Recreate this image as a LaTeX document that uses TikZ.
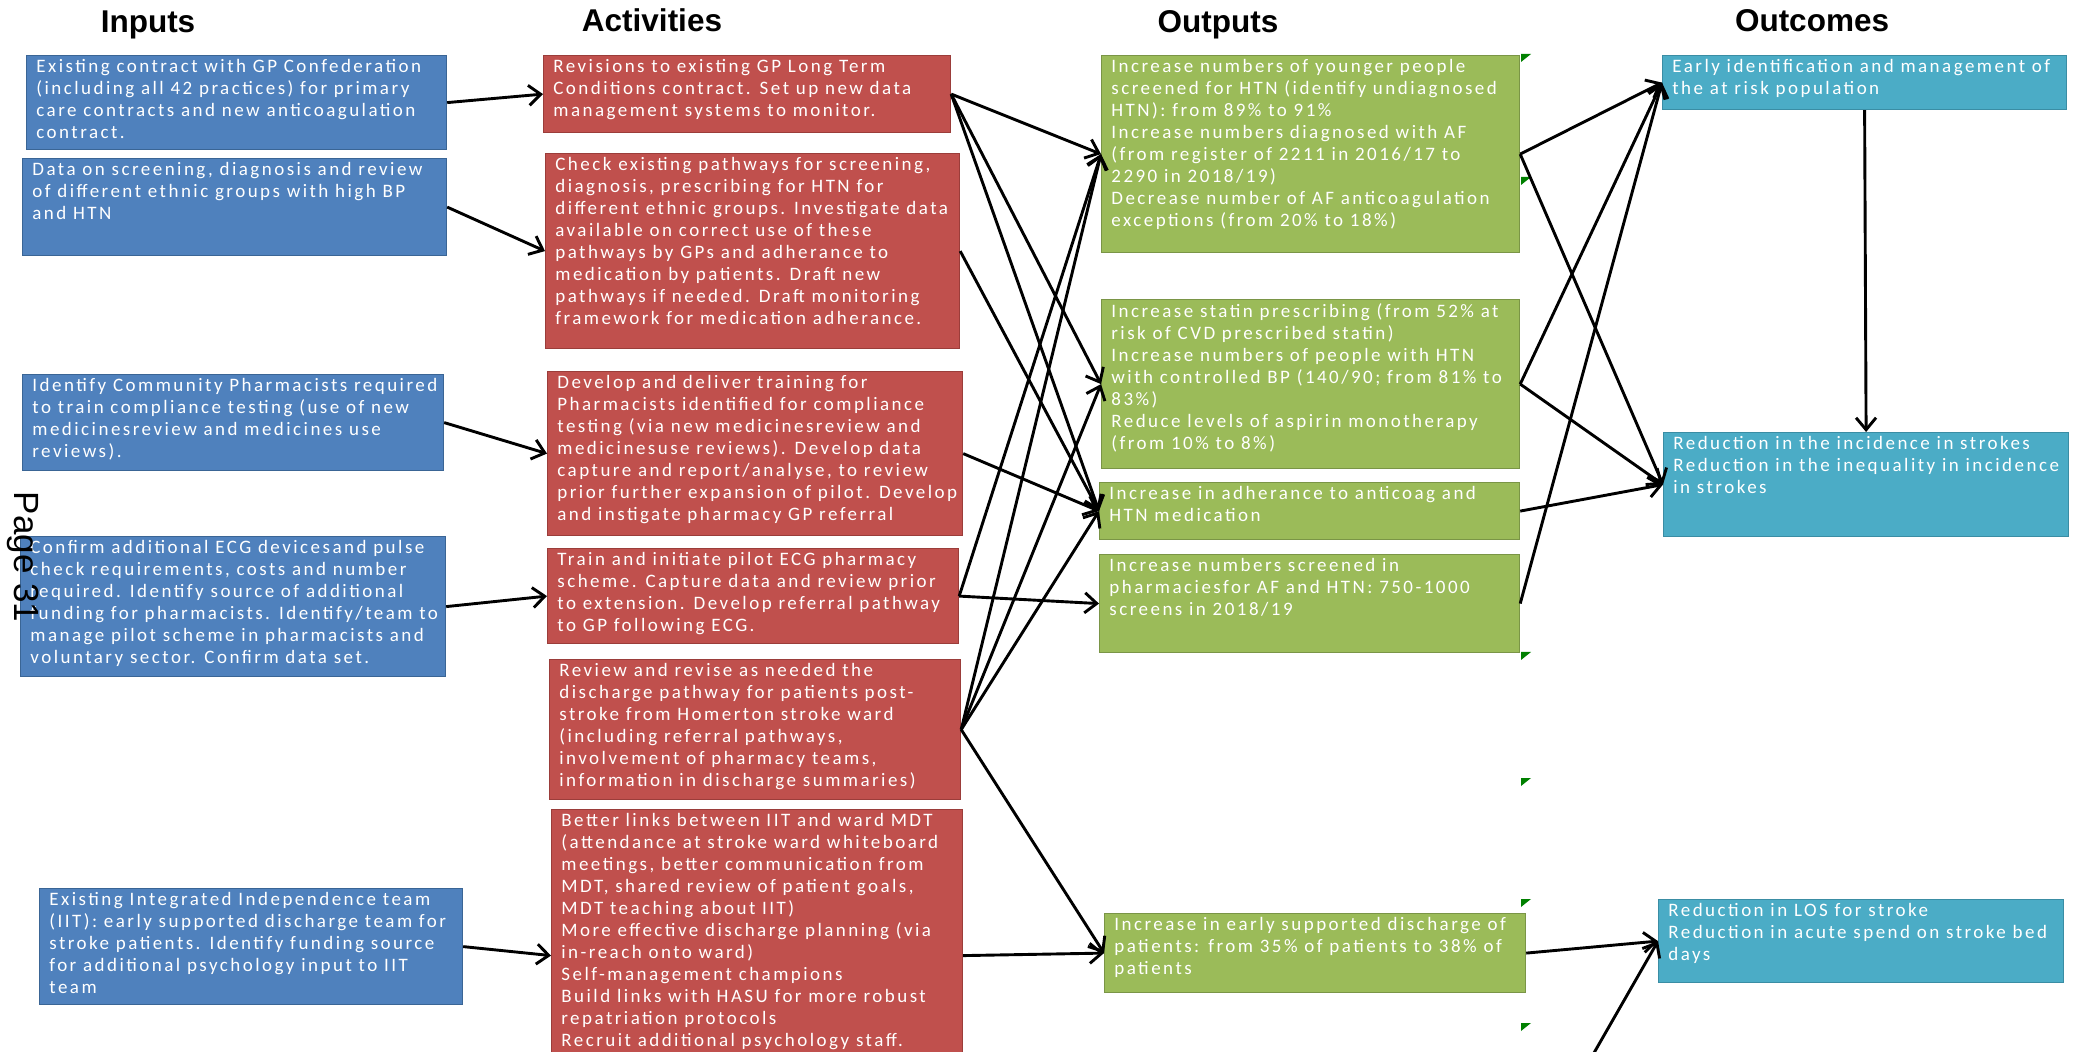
\documentclass[tikz,border=0pt]{standalone}
\usepackage{fontspec}
\setmainfont{Liberation Sans}
\newfontfamily\boxfont[LetterSpace=13]{Carlito}
\usetikzlibrary{arrows.meta}
\definecolor{inblue}{HTML}{4F81BD}
\definecolor{inblueb}{HTML}{3A6595}
\definecolor{actred}{HTML}{C0504D}
\definecolor{actredb}{HTML}{9B3D3A}
\definecolor{outgreen}{HTML}{9BBB59}
\definecolor{outgreenb}{HTML}{7A9546}
\definecolor{octeal}{HTML}{4BACC6}
\definecolor{octealb}{HTML}{3A8DA4}
\definecolor{flaggreen}{HTML}{008000}
\tikzset{
 boxbase/.style={rectangle, anchor=north west, inner sep=0pt, line width=0.6pt},
 inbox/.style={boxbase, fill=inblue, draw=inblueb},
 actbox/.style={boxbase, fill=actred, draw=actredb},
 outbox/.style={boxbase, fill=outgreen, draw=outgreenb},
 ocbox/.style={boxbase, fill=octeal, draw=octealb},
 txt/.style={anchor=north west, inner sep=0pt, align=left, text=white, font=\boxfont\fontsize{9.5}{11}\selectfont},
 coltitle/.style={anchor=base, font=\bfseries\fontsize{15.75}{18}\selectfont},
 conn/.style={line width=1.45pt, -{Straight Barb[length=6pt,width=10pt]}},
 flag/.style={fill=flaggreen}
}
\newcommand\mkbox[7]{%
 \node[#2, minimum width=#5pt, minimum height=#6pt] (#1) at (#3,#4) {};
 \node[txt] (#1t) at ([xshift=5pt,yshift=-2pt]#1.north west) {#7};
}
\begin{document}
\begin{tikzpicture}[x=0.5pt,y=-0.5pt]
\useasboundingbox (0,0) rectangle (2076,1052);
\clip (0,0) rectangle (2076,1052);
\fill[white] (0,0) rectangle (2076,1052);

% column titles
\node[coltitle] (tin) at (148,33) {Inputs};
\node[coltitle] (tact) at (652,32) {Activities};
\node[coltitle] (tout) at (1218,33) {Outputs};
\node[coltitle] (toc) at (1812,32) {Outcomes};

% inputs
\mkbox{in1}{inbox}{26}{55}{210}{47}{Existing contract with GP Confederation\\(including all 42 practices) for primary\\care contracts and new anticoagulation\\contract.}
\mkbox{in2}{inbox}{22}{158}{212}{48.5}{Data on screening, diagnosis and review\\of different ethnic groups with high BP\\and HTN}
\mkbox{in3}{inbox}{22}{374}{210.5}{48}{Identify Community Pharmacists required\\to train compliance testing (use of new\\medicinesreview and medicines use\\reviews).}
\mkbox{in4}{inbox}{20}{536}{212.5}{70}{Confirm additional ECG devicesand pulse\\check requirements, costs and number\\required. Identify source of additional\\funding for pharmacists. Identify/team to\\manage pilot scheme in pharmacists and\\voluntary sector. Confirm data set.}
\mkbox{in5}{inbox}{39}{888}{211.5}{58}{Existing Integrated Independence team\\(IIT): early supported discharge team for\\stroke patients. Identify funding source\\for additional psychology input to IIT\\team}

% activities
\mkbox{act1}{actbox}{543}{55}{203.5}{38.5}{Revisions to existing GP Long Term\\Conditions contract. Set up new data\\management systems to monitor.}
\mkbox{act2}{actbox}{545}{153}{207}{97.5}{Check existing pathways for screening,\\diagnosis, prescribing for HTN for\\different ethnic groups. Investigate data\\available on correct use of these\\pathways by GPs and adherance to\\medication by patients. Draft new\\pathways if needed. Draft monitoring\\framework for medication adherance.}
\mkbox{act3}{actbox}{547}{371}{207.5}{82}{Develop and deliver training for\\Pharmacists identified for compliance\\testing (via new medicinesreview and\\medicinesuse reviews). Develop data\\capture and report/analyse, to review\\prior further expansion of pilot. Develop\\and instigate pharmacy GP referral}
\mkbox{act4}{actbox}{547}{548}{205.5}{47.5}{Train and initiate pilot ECG pharmacy\\scheme. Capture data and review prior\\to extension. Develop referral pathway\\to GP following ECG.}
\mkbox{act5}{actbox}{549}{659}{205.5}{70}{Review and revise as needed the\\discharge pathway for patients post-\\stroke from Homerton stroke ward\\(including referral pathways,\\involvement of pharmacy teams,\\information in discharge summaries)}
\mkbox{act6}{actbox}{551}{809}{205.5}{146}{Better links between IIT and ward MDT\\(attendance at stroke ward whiteboard\\meetings, better communication from\\MDT, shared review of patient goals,\\MDT teaching about IIT)\\More effective discharge planning (via\\in-reach onto ward)\\Self-management champions\\Build links with HASU for more robust\\repatriation protocols\\Recruit additional psychology staff.}

% outputs
\mkbox{out1}{outbox}{1101}{55}{209}{98.5}{Increase numbers of younger people\\screened for HTN (identify undiagnosed\\HTN): from 89\% to 91\%\\Increase numbers diagnosed with AF\\(from register of 2211 in 2016/17 to\\2290 in 2018/19)\\Decrease number of AF anticoagulation\\exceptions (from 20\% to 18\%)}
\mkbox{out2}{outbox}{1101}{299}{209}{84.5}{Increase statin prescribing (from 52\% at\\risk of CVD prescribed statin)\\Increase numbers of people with HTN\\with controlled BP (140/90; from 81\% to\\83\%)\\Reduce levels of aspirin monotherapy\\(from 10\% to 8\%)}
\mkbox{out3}{outbox}{1099}{482}{210}{28.5}{Increase in adherance to anticoag and\\HTN medication}
\mkbox{out4}{outbox}{1099}{554}{210}{49}{Increase numbers screened in\\pharmaciesfor AF and HTN: 750-1000\\screens in 2018/19}
\mkbox{out5}{outbox}{1104}{913}{210.5}{39.5}{Increase in early supported discharge of\\patients: from 35\% of patients to 38\% of\\patients}

% outcomes
\mkbox{oc1}{ocbox}{1662}{55}{202}{27}{Early identification and management of\\the at risk population}
\mkbox{oc2}{ocbox}{1663}{432}{202.5}{52}{Reduction in the incidence in strokes\\Reduction in the inequality in incidence\\in strokes}
\mkbox{oc3}{ocbox}{1658}{899}{202.5}{41.5}{Reduction in LOS for stroke\\Reduction in acute spend on stroke bed\\days}

\coordinate (offpage) at (1567,1100);

% small green markers
\foreach \yy in {54,177,652,778,899,1023}{
 \fill[flag] (1521,\yy) -- (1531,\yy) -- (1521,\yy+8) -- cycle;
}

% connectors: inputs -> activities
\draw[conn] (in1.east) -- (act1.west);
\draw[conn] (in2.east) -- (act2.west);
\draw[conn] (in3.east) -- (act3.west);
\draw[conn] (in4.east) -- (act4.west);
\draw[conn] (in5.east) -- (act6.west);

% activities -> outputs
\draw[conn] (act1.east) -- (out1.west);
\draw[conn] (act1.east) -- (out2.west);
\draw[conn] (act1.east) -- (out3.west);
\draw[conn] (act2.east) -- (out3.west);
\draw[conn] (act3.east) -- (out3.west);
\draw[conn] (act4.east) -- (out1.west);
\draw[conn] (act4.east) -- (out4.west);
\draw[conn] (act5.east) -- (out1.west);
\draw[conn] (act5.east) -- (out2.west);
\draw[conn] (act5.east) -- (out3.west);
\draw[conn] (act5.east) -- (out5.west);
\draw[conn] (act6.east) -- (out5.west);

% outputs -> outcomes
\draw[conn] (out1.east) -- (oc1.west);
\draw[conn] (out1.east) -- (oc2.west);
\draw[conn] (out2.east) -- (oc1.west);
\draw[conn] (out2.east) -- (oc2.west);
\draw[conn] (out3.east) -- (oc2.west);
\draw[conn] (out4.east) -- (oc1.west);
\draw[conn] (out5.east) -- (oc3.west);
\draw[conn] (offpage) -- (oc3.west);
\draw[conn] (oc1.south) -- (oc2.north);

% page number
\node[rotate=-90, anchor=base, font=\fontsize{17.5}{20}\selectfont] (pg) at (14,557) {Page 31};
\end{tikzpicture}
\end{document}
